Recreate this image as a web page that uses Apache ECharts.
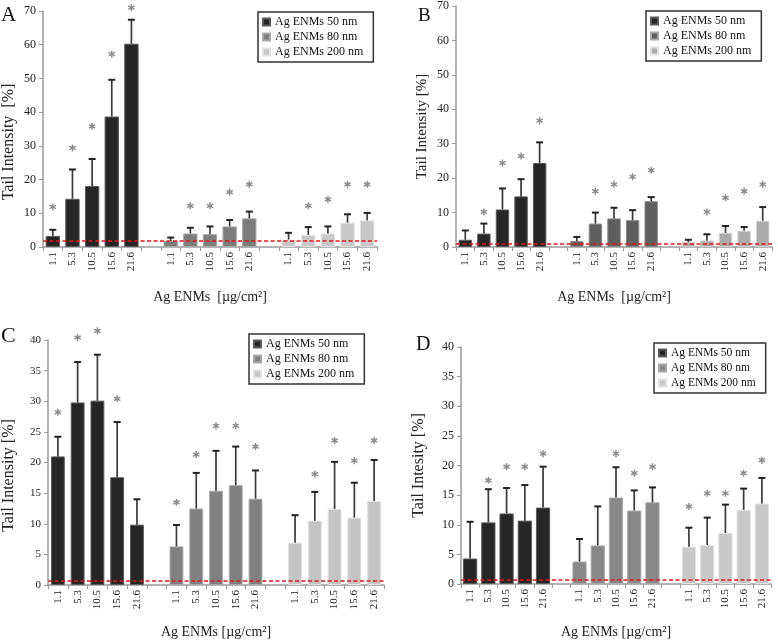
<!DOCTYPE html>
<html><head><meta charset="utf-8">
<script src="https://cdn.jsdelivr.net/npm/echarts@6/dist/echarts.min.js"></script>
<style>html,body{margin:0;padding:0;background:#fff}#c{width:778px;height:640px}</style>
</head><body><div id="c"></div>
<script>
// ---- data ----
const concentrations = ['1.1', '5.3', '10.5', '15.6', '21.6'];
const sizeNames = ['Ag ENMs 50 nm', 'Ag ENMs 80 nm', 'Ag ENMs 200 nm'];

// Panel A
const a50 = [3.3, 14.3, 18.1, 38.7, 60.3];
const a50Up = [5.1, 23.0, 26.1, 49.6, 67.4];
const a50Star = [11.9, 29.4, 35.8, 57.2, 71.0];
const a80 = [1.8, 4.0, 3.8, 6.1, 8.5];
const a80Up = [2.8, 5.7, 6.1, 8.0, 10.5];
const a80Star = [null, 12.2, 12.2, 16.3, 18.6];
const a200 = [2.2, 3.6, 4.0, 7.2, 7.9];
const a200Up = [4.2, 5.9, 6.1, 9.7, 10.1];
const a200Star = [null, 12.2, 14.1, 18.6, 18.6];
const controlA = 1.9;

// Panel B
const b50 = [2.1, 3.9, 10.9, 14.7, 24.4];
const b50Up = [4.8, 6.8, 17.0, 19.7, 30.4];
const b50Star = [null, 10.2, 24.4, 26.4, 36.7];
const b80 = [1.7, 6.8, 8.3, 7.8, 13.3];
const b80Up = [2.9, 10.0, 11.4, 10.7, 14.5];
const b80Star = [null, 16.2, 18.2, 20.4, 22.3];
const b200 = [1.4, 1.9, 4.1, 4.7, 7.6];
const b200Up = [2.1, 3.7, 6.1, 5.8, 11.6];
const b200Star = [null, 10.2, 14.3, 16.2, 18.2];
const controlB = 0.8;

// Panel C
const c50 = [21.0, 29.8, 30.1, 17.6, 9.85];
const c50Up = [24.2, 36.4, 37.6, 26.6, 14.0];
const c50Star = [28.2, 40.4, 41.5, 30.4, null];
const c80 = [6.3, 12.5, 15.4, 16.3, 14.1];
const c80Up = [9.8, 18.3, 21.9, 22.6, 18.7];
const c80Star = [13.5, 21.3, 26.0, 26.0, 22.6];
const c200 = [6.9, 10.5, 12.4, 11.0, 13.7];
const c200Up = [11.4, 15.2, 20.1, 16.7, 20.4];
const c200Star = [null, 18.1, 23.6, 20.3, 23.6];
const controlC = 0.75;

// Panel D
const d50 = [4.3, 10.4, 11.9, 10.7, 12.9];
const d50Up = [10.5, 16.0, 16.2, 16.7, 19.8];
const d50Star = [null, 17.5, 19.8, 19.8, 22.0];
const d80 = [3.8, 6.5, 14.6, 12.4, 13.8];
const d80Up = [7.6, 13.1, 19.7, 15.8, 16.3];
const d80Star = [null, null, 22.0, 18.7, 19.8];
const d200 = [6.3, 6.6, 8.6, 12.5, 13.6];
const d200Up = [9.5, 11.2, 13.4, 16.1, 17.9];
const d200Star = [13.1, 15.3, 15.3, 18.7, 20.9];
const controlD = 0.7;

// ---- layout / style ----
const FONT = '"Liberation Serif", "Times New Roman", serif';
const STAR = 'path://M4,0H6V3.27L8.83,1.63L9.83,3.37L7,5L9.83,6.63L8.83,8.37L6,6.73V10H4V6.73L1.17,8.37L0.17,6.63L3,5L0.17,3.37L1.17,1.63L4,3.27Z';

const panels = [
  {letter: 'A', means: [a50, a80, a200], ups: [a50Up, a80Up, a200Up], stars: [a50Star, a80Star, a200Star], control: controlA,
   yMax: 70, yStep: 10, yTitle: 'Tail Intensity  [%]', xTitle: 'Ag ENMs  [µg/cm²]',
   colors: ['#262626', '#7c7c7c', '#c8c8c8'], borders: ['#5a5a5a', '#a8a8a8', '#e2e2e2'],
   grid: {left: 43, top: 11, width: 334, height: 236}, legend: {left: 258, top: 12},
   letterPos: {left: 1, top: 5, size: 21}, catGap: '27%', yNameGap: 26, yNameSize: 16, yNamePad: [0, 26, 0, 0], xNameGap: 43,
   yLabelSize: 12, xLabelSize: 11, legendSize: 12},
  {letter: 'B', means: [b50, b80, b200], ups: [b50Up, b80Up, b200Up], stars: [b50Star, b80Star, b200Star], control: controlB,
   yMax: 70, yStep: 10, yTitle: 'Tail Intensity [%]', xTitle: 'Ag ENMs  [µg/cm²]',
   colors: ['#262626', '#5e5e5e', '#ababab'], borders: ['#5a5a5a', '#888888', '#d0d0d0'],
   grid: {left: 456, top: 6, width: 316, height: 241}, legend: {left: 646, top: 11},
   letterPos: {left: 418, top: 7, size: 19}, catGap: '28%', yNameGap: 26, yNameSize: 15, yNamePad: [0, 0, 0, 0], xNameGap: 43,
   yLabelSize: 12, xLabelSize: 11, legendSize: 12},
  {letter: 'C', means: [c50, c80, c200], ups: [c50Up, c80Up, c200Up], stars: [c50Star, c80Star, c200Star], control: controlC,
   yMax: 40, yStep: 5, yTitle: 'Tail Intensity [%]', xTitle: 'Ag ENMs [µg/cm²]',
   colors: ['#262626', '#808080', '#c4c4c4'], borders: ['#5a5a5a', '#a8a8a8', '#e0e0e0'],
   grid: {left: 46, top: 340, width: 338, height: 245}, legend: {left: 249, top: 334},
   letterPos: {left: 1, top: 325, size: 22}, catGap: '30%', yNameGap: 31, yNameSize: 16, yNamePad: [0, 26, 0, 0], xNameGap: 40,
   yLabelSize: 11, xLabelSize: 11, legendSize: 12},
  {letter: 'D', means: [d50, d80, d200], ups: [d50Up, d80Up, d200Up], stars: [d50Star, d80Star, d200Star], control: controlD,
   yMax: 40, yStep: 5, yTitle: 'Tail Intesity [%]', xTitle: 'Ag ENMs [µg/cm²]',
   colors: ['#262626', '#888888', '#c8c8c8'], borders: ['#5a5a5a', '#aaaaaa', '#e2e2e2'],
   grid: {left: 461, top: 347, width: 310, height: 237}, legend: {left: 654, top: 343},
   letterPos: {left: 416, top: 335, size: 20}, catGap: '22%', yNameGap: 34, yNameSize: 16, yNamePad: [0, 0, 0, 0], xNameGap: 41,
   yLabelSize: 12, xLabelSize: 11, legendSize: 11.5}
];

// category list: 5 concentrations per size, with an empty slot between groups
const categories = [];
sizeNames.forEach((s, g) => {
  if (g > 0) categories.push('gap' + g);
  concentrations.forEach(c => categories.push(g + '|' + c));
});
const catIndex = (g, i) => g * (concentrations.length + 1) + i;

function renderErr(params, api) {
  const x = api.value(0);
  const base = api.coord([x, api.value(1)]);
  const top = api.coord([x, api.value(2)]);
  const half = 3.5;
  return {
    type: 'group',
    children: [
      {type: 'line', shape: {x1: top[0], y1: base[1], x2: top[0], y2: top[1]}, style: {stroke: '#3a3a3a', lineWidth: 1.7}},
      {type: 'line', shape: {x1: top[0] - half, y1: top[1], x2: top[0] + half, y2: top[1]}, style: {stroke: '#222', lineWidth: 2}}
    ]
  };
}

const grids = [], xAxes = [], yAxes = [], series = [], legends = [], titles = [];
panels.forEach((p, pi) => {
  grids.push(Object.assign({containLabel: false}, p.grid));
  xAxes.push({
    type: 'category', gridIndex: pi, data: categories,
    axisLine: {lineStyle: {color: '#9a9a9a', width: 1.5}},
    axisTick: {show: true, length: 4, lineStyle: {color: '#9a9a9a', width: 1}},
    axisLabel: {rotate: 90, interval: 0, margin: 5, fontFamily: FONT, fontSize: p.xLabelSize, color: '#222',
      formatter: v => v.indexOf('|') >= 0 ? v.split('|')[1] : ''},
    name: p.xTitle, nameLocation: 'middle', nameGap: p.xNameGap,
    nameTextStyle: {fontFamily: FONT, fontSize: 14, color: '#222'}
  });
  yAxes.push({
    type: 'value', gridIndex: pi, min: 0, max: p.yMax, interval: p.yStep,
    splitLine: {show: false},
    axisLine: {show: true, lineStyle: {color: '#9a9a9a', width: 1.5}},
    axisTick: {show: true, length: 4, lineStyle: {color: '#9a9a9a'}},
    axisLabel: {margin: 7, fontFamily: FONT, fontSize: p.yLabelSize, color: '#222'},
    name: p.yTitle, nameLocation: 'middle', nameGap: p.yNameGap,
    nameTextStyle: {fontFamily: FONT, fontSize: p.yNameSize, color: '#222', padding: p.yNamePad}
  });
  sizeNames.forEach((name, g) => {
    const data = categories.map(() => '-');
    p.means[g].forEach((v, i) => { data[catIndex(g, i)] = v; });
    series.push({
      type: 'bar', name, xAxisIndex: pi, yAxisIndex: pi, data,
      barGap: '-100%', barCategoryGap: p.catGap, z: 2,
      itemStyle: {color: p.colors[g], borderColor: p.borders[g], borderWidth: 1},
      emphasis: {disabled: true}
    });
  });
  const errData = [], starData = [];
  sizeNames.forEach((name, g) => {
    p.means[g].forEach((v, i) => {
      errData.push([catIndex(g, i), v, p.ups[g][i]]);
      if (p.stars[g][i] != null) starData.push([catIndex(g, i), p.stars[g][i]]);
    });
  });
  series.push({type: 'custom', xAxisIndex: pi, yAxisIndex: pi, data: errData,
    encode: {x: 0, y: [1, 2]}, renderItem: renderErr, z: 3, silent: true});
  series.push({
    type: 'scatter', xAxisIndex: pi, yAxisIndex: pi, data: starData,
    symbol: STAR, symbolSize: 7, itemStyle: {color: '#6e6e6e'}, clip: false, z: 4, silent: true,
    markLine: {silent: true, symbol: 'none', label: {show: false},
      lineStyle: {color: '#e8141c', type: [4, 2.5], width: 1.6},
      data: [{yAxis: p.control}]}
  });
  legends.push({
    left: p.legend.left, top: p.legend.top, orient: 'vertical', icon: 'rect',
    itemWidth: 7, itemHeight: 7, itemGap: 1, selectedMode: false,
    padding: [3, 10, 3, 4], borderColor: '#333', borderWidth: 1.5, backgroundColor: '#fff',
    textStyle: {fontFamily: FONT, fontSize: p.legendSize, color: '#111', lineHeight: 14},
    data: sizeNames.map((n, g) => ({name: n, itemStyle: {color: p.colors[g]}}))
  });
  titles.push({text: p.letter, left: p.letterPos.left, top: p.letterPos.top, padding: 0,
    textStyle: {fontFamily: FONT, fontSize: p.letterPos.size, fontWeight: 'normal', color: '#111'}});
});

const chart = echarts.init(document.getElementById('c'));
chart.setOption({
  animation: false,
  backgroundColor: '#fff',
  title: titles,
  legend: legends,
  grid: grids,
  xAxis: xAxes,
  yAxis: yAxes,
  series
});
</script>
</body></html>
